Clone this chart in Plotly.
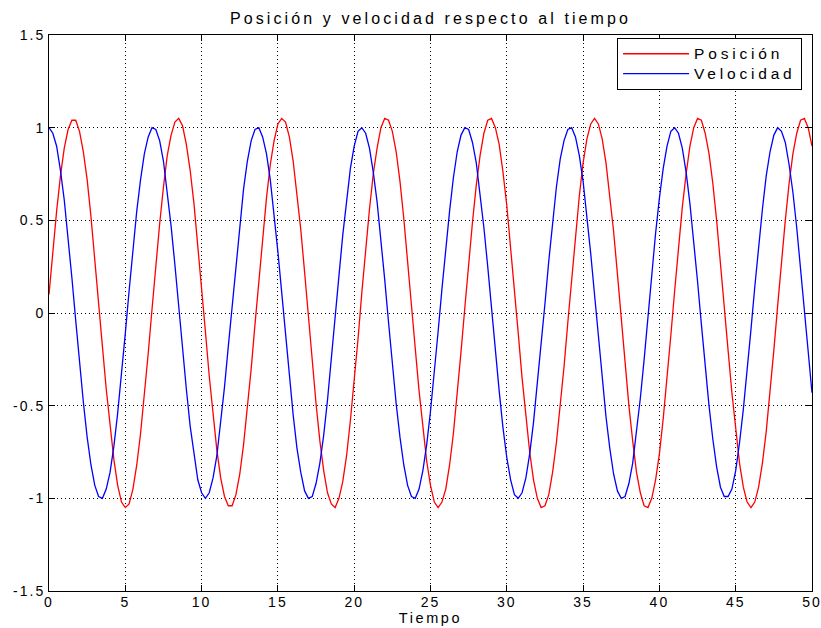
import plotly.graph_objects as go

TIEMPO_INICIO = 0.0
TIEMPO_PASO = 0.25

posicion = [
    0.10, 0.33, 0.55, 0.74, 0.89, 0.99, 1.04, 1.04, 0.98, 0.87,
    0.72, 0.52, 0.30, 0.06, -0.18, -0.41, -0.62, -0.79, -0.93, -1.02,
    -1.05, -1.03, -0.95, -0.82, -0.65, -0.45, -0.22, 0.02, 0.26, 0.48,
    0.68, 0.85, 0.96, 1.03, 1.05, 1.01, 0.91, 0.77, 0.59, 0.37,
    0.14, -0.10, -0.34, -0.55, -0.74, -0.89, -0.99, -1.04, -1.04, -0.98,
    -0.87, -0.71, -0.52, -0.30, -0.06, 0.18, 0.41, 0.62, 0.80, 0.93,
    1.02, 1.05, 1.03, 0.95, 0.82, 0.65, 0.45, 0.22, -0.02, -0.26,
    -0.49, -0.69, -0.85, -0.97, -1.03, -1.05, -1.00, -0.91, -0.77, -0.58,
    -0.37, -0.14, 0.11, 0.34, 0.56, 0.75, 0.89, 1.00, 1.05, 1.04,
    0.98, 0.87, 0.71, 0.51, 0.29, 0.05, -0.19, -0.42, -0.63, -0.80,
    -0.93, -1.02, -1.05, -1.02, -0.95, -0.82, -0.65, -0.44, -0.21, 0.03,
    0.27, 0.49, 0.69, 0.85, 0.97, 1.04, 1.05, 1.00, 0.91, 0.76,
    0.58, 0.36, 0.13, -0.11, -0.35, -0.56, -0.75, -0.90, -1.00, -1.05,
    -1.04, -0.98, -0.86, -0.70, -0.51, -0.29, -0.05, 0.19, 0.42, 0.63,
    0.81, 0.94, 1.02, 1.05, 1.02, 0.94, 0.81, 0.64, 0.44, 0.21,
    -0.03, -0.27, -0.50, -0.69, -0.86, -0.97, -1.04, -1.05, -1.00, -0.90,
    -0.76, -0.57, -0.36, -0.12, 0.12, 0.35, 0.57, 0.75, 0.90, 1.00,
    1.05, 1.04, 0.97, 0.86, 0.70, 0.50, 0.28, 0.04, -0.20, -0.43,
    -0.63, -0.81, -0.94, -1.02, -1.05, -1.02, -0.94, -0.81, -0.64, -0.43,
    -0.20, 0.04, 0.28, 0.50, 0.70, 0.86, 0.97, 1.04, 1.05, 1.00,
    0.90,
]

velocidad = [
    1.00, 0.97, 0.90, 0.77, 0.61, 0.41, 0.19, -0.04, -0.27, -0.48,
    -0.67, -0.82, -0.93, -0.99, -1.00, -0.95, -0.86, -0.72, -0.54, -0.34,
    -0.11, 0.12, 0.34, 0.55, 0.72, 0.86, 0.95, 1.00, 0.99, 0.93,
    0.82, 0.66, 0.47, 0.26, 0.03, -0.19, -0.41, -0.61, -0.77, -0.90,
    -0.97, -1.00, -0.97, -0.89, -0.77, -0.60, -0.40, -0.18, 0.04, 0.27,
    0.48, 0.67, 0.82, 0.93, 0.99, 1.00, 0.95, 0.86, 0.72, 0.54,
    0.33, 0.11, -0.12, -0.35, -0.55, -0.73, -0.86, -0.96, -1.00, -0.99,
    -0.92, -0.81, -0.66, -0.47, -0.26, -0.03, 0.20, 0.42, 0.61, 0.78,
    0.90, 0.98, 1.00, 0.97, 0.89, 0.76, 0.60, 0.40, 0.18, -0.05,
    -0.28, -0.49, -0.67, -0.82, -0.93, -0.99, -1.00, -0.95, -0.85, -0.71,
    -0.53, -0.33, -0.10, 0.13, 0.35, 0.55, 0.73, 0.87, 0.96, 1.00,
    0.99, 0.92, 0.81, 0.65, 0.46, 0.25, 0.02, -0.20, -0.42, -0.62,
    -0.78, -0.90, -0.98, -1.00, -0.97, -0.89, -0.76, -0.59, -0.39, -0.17,
    0.05, 0.28, 0.49, 0.68, 0.83, 0.93, 0.99, 1.00, 0.95, 0.85,
    0.71, 0.53, 0.32, 0.10, -0.13, -0.36, -0.56, -0.73, -0.87, -0.96,
    -1.00, -0.99, -0.92, -0.81, -0.65, -0.46, -0.25, -0.02, 0.21, 0.43,
    0.62, 0.78, 0.90, 0.98, 1.00, 0.97, 0.89, 0.76, 0.59, 0.39,
    0.17, -0.06, -0.29, -0.50, -0.68, -0.83, -0.94, -0.99, -0.99, -0.95,
    -0.85, -0.70, -0.52, -0.32, -0.09, 0.14, 0.36, 0.56, 0.74, 0.87,
    0.96, 1.00, 0.98, 0.92, 0.80, 0.65, 0.46, 0.24, 0.01, -0.21,
    -0.43,
]

x_ticks = [0, 5, 10, 15, 20, 25, 30, 35, 40, 45, 50]
x_tick_labels = ["0", "5", "10", "15", "20", "25", "30", "35", "40", "45", "50"]
y_ticks = [-1.5, -1, -0.5, 0, 0.5, 1, 1.5]
y_tick_labels = ["-1.5", "-1", "-0.5", "0", "0.5", "1", "1.5"]

titulo = "Posición y velocidad respecto al tiempo"
etiqueta_x = "Tiempo"
nombre_pos = "Posición"
nombre_vel = "Velocidad"

FONT = "Liberation Sans, Arial, Helvetica, sans-serif"


def spaced(text, px, size=None):
    style = "letter-spacing:%.1fpx" % px
    if size is not None:
        style += ";font-size:%.1fpx" % size
    return '<span style="%s">%s</span>' % (style, text)


fig = go.Figure()
fig.add_trace(go.Scatter(
    y=posicion, x0=TIEMPO_INICIO, dx=TIEMPO_PASO, mode="lines",
    name=spaced(nombre_pos, 3.8, 15.5), line=dict(color="#FF0000", width=1.3),
))
fig.add_trace(go.Scatter(
    y=velocidad, x0=TIEMPO_INICIO, dx=TIEMPO_PASO, mode="lines",
    name=spaced(nombre_vel, 3.8, 15.5), line=dict(color="#0000FF", width=1.3),
))

axis_common = dict(
    showline=True, linecolor="black", linewidth=1, mirror="ticks",
    ticks="inside", ticklen=6, tickcolor="black", tickwidth=1,
    showgrid=True, gridcolor="black", gridwidth=1, griddash="1px,3px",
    zeroline=False, tickmode="array", ticklabeloverflow="allow",
    tickfont=dict(family=FONT, size=14, color="black"),
)

fig.update_xaxes(
    range=[0, 50], tickvals=x_ticks,
    ticktext=[spaced(t, 2) for t in x_tick_labels],
    ticklabelstandoff=-2,
    title=dict(text=spaced(etiqueta_x, 2.6), font=dict(family=FONT, size=14.5, color="black"), standoff=0),
    **axis_common,
)
fig.update_yaxes(
    range=[-1.5, 1.5], tickvals=y_ticks,
    ticktext=[spaced(t, 2) for t in y_tick_labels],
    **axis_common,
)

fig.update_layout(
    width=821, height=628,
    margin=dict(l=49, r=9, t=35, b=37, autoexpand=False),
    paper_bgcolor="white", plot_bgcolor="white",
    font=dict(family=FONT, color="black"),
    title=dict(text=spaced(titulo, 3.1), x=0.5, xref="paper", xanchor="center",
               y=1 - 18 / 628, yref="container", yanchor="middle",
               font=dict(family=FONT, size=16, color="black")),
    showlegend=True,
    legend=dict(
        x=0.987, y=0.995, xanchor="right", yanchor="top",
        bgcolor="white", bordercolor="black", borderwidth=1,
        font=dict(family=FONT, size=13, color="black"),
        itemwidth=66, tracegroupgap=0,
    ),
)

fig.write_html("out.html")
